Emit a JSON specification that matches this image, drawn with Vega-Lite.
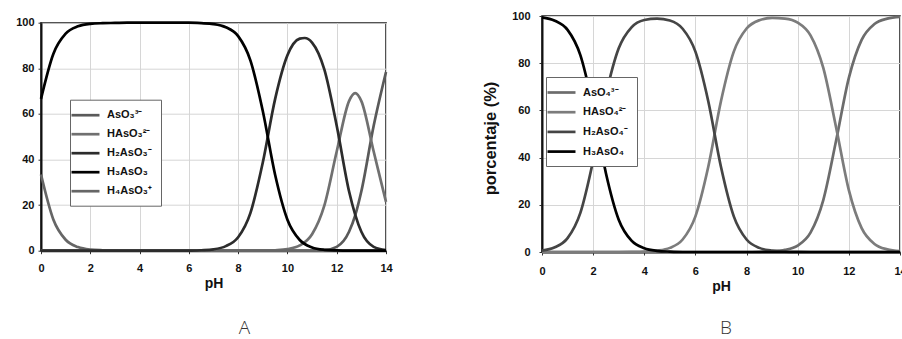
{
"$schema": "https://vega.github.io/schema/vega-lite/v6.json",
"background": "white",
"padding": {"left": 10, "top": 9, "right": 0, "bottom": 0},
"spacing": 88,
"config": {
 "font": "Liberation Sans",
 "view": {"stroke": "#1a1a1a", "strokeWidth": 1.5},
 "axis": {"labelFont": "Liberation Sans", "labelFontWeight": "bold", "labelFontSize": 11, "labelColor": "#111", "titleFont": "Liberation Sans", "titleFontWeight": "bold", "titleFontSize": 14, "titleColor": "#111", "gridColor": "#d6d6d6", "gridWidth": 1, "domainColor": "#111", "domainWidth": 2, "tickColor": "#333", "tickSize": 3, "tickWidth": 1},
 "legend": {"symbolType": "M-3,0H3", "symbolSize": 87, "symbolStrokeWidth": 3, "labelFont": "Liberation Sans", "labelFontWeight": "bold", "labelFontSize": 11, "labelColor": "#111", "labelOffset": 15, "rowPadding": 7, "padding": 9, "strokeColor": "#666", "fillColor": "white", "labelLimit": 200},
 "line": {"strokeWidth": 2.7, "interpolate": "monotone"}
},
"datasets": {
 "A": [
  {"species":"AsO₃³⁻","pH":0,"pct":0},{"species":"AsO₃³⁻","pH":11,"pct":0},{"species":"AsO₃³⁻","pH":11.5,"pct":0.25},{"species":"AsO₃³⁻","pH":12,"pct":1.7},{"species":"AsO₃³⁻","pH":12.5,"pct":8.3},{"species":"AsO₃³⁻","pH":12.75,"pct":15.5},{"species":"AsO₃³⁻","pH":13,"pct":26.1},{"species":"AsO₃³⁻","pH":13.5,"pct":54.8},{"species":"AsO₃³⁻","pH":14,"pct":78.4},
  {"species":"HAsO₃²⁻","pH":0,"pct":0},{"species":"HAsO₃²⁻","pH":8.5,"pct":0},{"species":"HAsO₃²⁻","pH":9,"pct":0.03},{"species":"HAsO₃²⁻","pH":9.5,"pct":0.2},{"species":"HAsO₃²⁻","pH":10,"pct":0.7},{"species":"HAsO₃²⁻","pH":10.5,"pct":2.3},{"species":"HAsO₃²⁻","pH":11,"pct":7.25},{"species":"HAsO₃²⁻","pH":11.5,"pct":19.9},{"species":"HAsO₃²⁻","pH":12,"pct":43.5},{"species":"HAsO₃²⁻","pH":12.5,"pct":65.6},{"species":"HAsO₃²⁻","pH":12.75,"pct":69.1},{"species":"HAsO₃²⁻","pH":13,"pct":65.6},{"species":"HAsO₃²⁻","pH":13.5,"pct":43.5},{"species":"HAsO₃²⁻","pH":14,"pct":21.4},
  {"species":"H₄AsO₃⁺","pH":0,"pct":33.4},{"species":"H₄AsO₃⁺","pH":0.5,"pct":13.7},{"species":"H₄AsO₃⁺","pH":1,"pct":4.8},{"species":"H₄AsO₃⁺","pH":1.5,"pct":1.6},{"species":"H₄AsO₃⁺","pH":2,"pct":0.5},{"species":"H₄AsO₃⁺","pH":2.5,"pct":0.2},{"species":"H₄AsO₃⁺","pH":3,"pct":0.1},{"species":"H₄AsO₃⁺","pH":3.5,"pct":0},{"species":"H₄AsO₃⁺","pH":14,"pct":0},
  {"species":"H₂AsO₃⁻","pH":0,"pct":0},{"species":"H₂AsO₃⁻","pH":6,"pct":0},{"species":"H₂AsO₃⁻","pH":6.5,"pct":0.2},{"species":"H₂AsO₃⁻","pH":7,"pct":0.6},{"species":"H₂AsO₃⁻","pH":7.5,"pct":2.0},{"species":"H₂AsO₃⁻","pH":8,"pct":5.9},{"species":"H₂AsO₃⁻","pH":8.5,"pct":16.6},{"species":"H₂AsO₃⁻","pH":9,"pct":38.7},{"species":"H₂AsO₃⁻","pH":9.5,"pct":66.5},{"species":"H₂AsO₃⁻","pH":10,"pct":85.7},{"species":"H₂AsO₃⁻","pH":10.5,"pct":93.0},{"species":"H₂AsO₃⁻","pH":10.7,"pct":93.3},{"species":"H₂AsO₃⁻","pH":11,"pct":91.3},{"species":"H₂AsO₃⁻","pH":11.5,"pct":79.4},{"species":"H₂AsO₃⁻","pH":12,"pct":54.8},{"species":"H₂AsO₃⁻","pH":12.5,"pct":26.1},{"species":"H₂AsO₃⁻","pH":13,"pct":8.3},{"species":"H₂AsO₃⁻","pH":13.5,"pct":1.7},{"species":"H₂AsO₃⁻","pH":14,"pct":0.25},
  {"species":"H₃AsO₃","pH":0,"pct":66.6},{"species":"H₃AsO₃","pH":0.5,"pct":86.3},{"species":"H₃AsO₃","pH":1,"pct":95.2},{"species":"H₃AsO₃","pH":1.5,"pct":98.4},{"species":"H₃AsO₃","pH":2,"pct":99.5},{"species":"H₃AsO₃","pH":2.5,"pct":99.8},{"species":"H₃AsO₃","pH":3,"pct":99.9},{"species":"H₃AsO₃","pH":3.5,"pct":100},{"species":"H₃AsO₃","pH":6,"pct":100},{"species":"H₃AsO₃","pH":6.5,"pct":99.8},{"species":"H₃AsO₃","pH":7,"pct":99.4},{"species":"H₃AsO₃","pH":7.5,"pct":98.0},{"species":"H₃AsO₃","pH":8,"pct":94.1},{"species":"H₃AsO₃","pH":8.5,"pct":83.4},{"species":"H₃AsO₃","pH":9,"pct":61.3},{"species":"H₃AsO₃","pH":9.5,"pct":33.3},{"species":"H₃AsO₃","pH":10,"pct":13.6},{"species":"H₃AsO₃","pH":10.5,"pct":4.7},{"species":"H₃AsO₃","pH":11,"pct":1.45},{"species":"H₃AsO₃","pH":11.5,"pct":0.4},{"species":"H₃AsO₃","pH":12,"pct":0.1},{"species":"H₃AsO₃","pH":12.5,"pct":0},{"species":"H₃AsO₃","pH":14,"pct":0}
 ],
 "B": [
  {"species":"AsO₄³⁻","pH":0,"pct":0},{"species":"AsO₄³⁻","pH":8,"pct":0},{"species":"AsO₄³⁻","pH":8.5,"pct":0.09},{"species":"AsO₄³⁻","pH":9,"pct":0.28},{"species":"AsO₄³⁻","pH":9.5,"pct":0.88},{"species":"AsO₄³⁻","pH":10,"pct":2.74},{"species":"AsO₄³⁻","pH":10.5,"pct":8.2},{"species":"AsO₄³⁻","pH":11,"pct":22.0},{"species":"AsO₄³⁻","pH":11.5,"pct":47.1},{"species":"AsO₄³⁻","pH":12,"pct":73.8},{"species":"AsO₄³⁻","pH":12.5,"pct":89.9},{"species":"AsO₄³⁻","pH":13,"pct":96.6},{"species":"AsO₄³⁻","pH":13.5,"pct":98.9},{"species":"AsO₄³⁻","pH":14,"pct":99.65},
  {"species":"HAsO₄²⁻","pH":0,"pct":0},{"species":"HAsO₄²⁻","pH":3,"pct":0},{"species":"HAsO₄²⁻","pH":3.5,"pct":0.05},{"species":"HAsO₄²⁻","pH":4,"pct":0.17},{"species":"HAsO₄²⁻","pH":4.5,"pct":0.56},{"species":"HAsO₄²⁻","pH":5,"pct":1.75},{"species":"HAsO₄²⁻","pH":5.5,"pct":5.3},{"species":"HAsO₄²⁻","pH":6,"pct":15.1},{"species":"HAsO₄²⁻","pH":6.5,"pct":36.0},{"species":"HAsO₄²⁻","pH":7,"pct":64.0},{"species":"HAsO₄²⁻","pH":7.5,"pct":84.9},{"species":"HAsO₄²⁻","pH":8,"pct":94.7},{"species":"HAsO₄²⁻","pH":8.5,"pct":98.2},{"species":"HAsO₄²⁻","pH":9,"pct":99.2},{"species":"HAsO₄²⁻","pH":9.5,"pct":98.9},{"species":"HAsO₄²⁻","pH":10,"pct":97.2},{"species":"HAsO₄²⁻","pH":10.5,"pct":91.8},{"species":"HAsO₄²⁻","pH":11,"pct":78.0},{"species":"HAsO₄²⁻","pH":11.5,"pct":52.9},{"species":"HAsO₄²⁻","pH":12,"pct":26.2},{"species":"HAsO₄²⁻","pH":12.5,"pct":10.1},{"species":"HAsO₄²⁻","pH":13,"pct":3.4},{"species":"HAsO₄²⁻","pH":13.5,"pct":1.1},{"species":"HAsO₄²⁻","pH":14,"pct":0.35},
  {"species":"H₂AsO₄⁻","pH":0,"pct":0.6},{"species":"H₂AsO₄⁻","pH":0.5,"pct":2.0},{"species":"H₂AsO₄⁻","pH":1,"pct":5.9},{"species":"H₂AsO₄⁻","pH":1.5,"pct":16.6},{"species":"H₂AsO₄⁻","pH":2,"pct":38.7},{"species":"H₂AsO₄⁻","pH":2.5,"pct":66.6},{"species":"H₂AsO₄⁻","pH":3,"pct":86.3},{"species":"H₂AsO₄⁻","pH":3.5,"pct":95.2},{"species":"H₂AsO₄⁻","pH":4,"pct":98.3},{"species":"H₂AsO₄⁻","pH":4.5,"pct":98.9},{"species":"H₂AsO₄⁻","pH":5,"pct":98.1},{"species":"H₂AsO₄⁻","pH":5.5,"pct":94.6},{"species":"H₂AsO₄⁻","pH":6,"pct":84.9},{"species":"H₂AsO₄⁻","pH":6.5,"pct":64.0},{"species":"H₂AsO₄⁻","pH":7,"pct":36.0},{"species":"H₂AsO₄⁻","pH":7.5,"pct":15.1},{"species":"H₂AsO₄⁻","pH":8,"pct":5.3},{"species":"H₂AsO₄⁻","pH":8.5,"pct":1.75},{"species":"H₂AsO₄⁻","pH":9,"pct":0.56},{"species":"H₂AsO₄⁻","pH":9.5,"pct":0.18},{"species":"H₂AsO₄⁻","pH":10,"pct":0.05},{"species":"H₂AsO₄⁻","pH":10.5,"pct":0},{"species":"H₂AsO₄⁻","pH":14,"pct":0},
  {"species":"H₃AsO₄","pH":0,"pct":99.4},{"species":"H₃AsO₄","pH":0.5,"pct":98.0},{"species":"H₃AsO₄","pH":1,"pct":94.1},{"species":"H₃AsO₄","pH":1.5,"pct":83.4},{"species":"H₃AsO₄","pH":2,"pct":61.3},{"species":"H₃AsO₄","pH":2.5,"pct":33.4},{"species":"H₃AsO₄","pH":3,"pct":13.7},{"species":"H₃AsO₄","pH":3.5,"pct":4.8},{"species":"H₃AsO₄","pH":4,"pct":1.6},{"species":"H₃AsO₄","pH":4.5,"pct":0.5},{"species":"H₃AsO₄","pH":5,"pct":0.16},{"species":"H₃AsO₄","pH":5.5,"pct":0},{"species":"H₃AsO₄","pH":14,"pct":0}
 ]
},
"hconcat": [
 {
  "spacing": -1.3,
  "resolve": {"scale": {"color": "independent"}, "legend": {"color": "independent"}},
  "vconcat": [
   {"width": 345, "height": 1, "view": {"stroke": null}, "data": {"values": [{"pH": 0}]}, "mark": {"type": "tick", "opacity": 0}, "encoding": {"x": {"field": "pH", "type": "quantitative", "axis": null}}},
   {
    "width": 345, "height": 228,
    "data": {"name": "A"},
    "title": {"text": "A", "orient": "bottom", "anchor": "middle", "dx": 31, "offset": 28, "font": "Open Sans", "fontWeight": 300, "fontSize": 19, "color": "#333"},
    "mark": {"type": "line"},
    "encoding": {
     "x": {"field": "pH", "type": "quantitative", "scale": {"domain": [0, 14], "nice": false}, "axis": {"grid": true, "values": [0,2,4,6,8,10,12,14], "title": "pH", "labelPadding": 9, "titlePadding": 3, "labelFlush": false, "labelOverlap": false}},
     "y": {"field": "pct", "type": "quantitative", "scale": {"domain": [0, 100], "nice": false}, "axis": {"grid": true, "values": [0,20,40,60,80,100], "title": null, "labelPadding": 4, "minExtent": 30, "maxExtent": 30}},
     "color": {"field": "species", "type": "nominal", "scale": {"domain": ["AsO₃³⁻","HAsO₃²⁻","H₂AsO₃⁻","H₃AsO₃","H₄AsO₃⁺"], "range": ["#5a5a5a","#707070","#2c2c2c","#000000","#666666"]}, "legend": {"orient": "none", "legendX": 29, "legendY": 77, "title": null, "labelExpr": "datum.label + '\u00a0'"}}
    }
   }
  ]
 },
 {
  "width": 358, "height": 236,
  "data": {"name": "B"},
  "title": {"text": "B", "orient": "bottom", "anchor": "middle", "dx": 5, "offset": 26, "font": "Open Sans", "fontWeight": 300, "fontSize": 19, "color": "#333"},
  "mark": {"type": "line"},
  "encoding": {
   "x": {"field": "pH", "type": "quantitative", "scale": {"domain": [0, 14], "nice": false}, "axis": {"grid": true, "values": [0,2,4,6,8,10,12,14], "title": "pH", "labelPadding": 10, "titlePadding": 3, "labelFlush": false, "labelOverlap": false}},
   "y": {"field": "pct", "type": "quantitative", "scale": {"domain": [0, 100], "nice": false}, "axis": {"grid": true, "values": [0,20,40,60,80,100], "title": "porcentaje (%)", "titleFontSize": 16.5, "titleY": 122, "labelPadding": 9, "minExtent": 32, "maxExtent": 32, "titlePadding": 12}},
   "color": {"field": "species", "type": "nominal", "scale": {"domain": ["AsO₄³⁻","HAsO₄²⁻","H₂AsO₄⁻","H₃AsO₄"], "range": ["#6c6c6c","#7c7c7c","#454545","#000000"]}, "legend": {"orient": "none", "legendX": 4, "legendY": 61, "rowPadding": 7.7, "title": null, "labelExpr": "datum.label + '\u00a0\u00a0\u00a0\u00a0'"}}
  }
 }
],
"resolve": {"scale": {"color": "independent"}, "legend": {"color": "independent"}}
}
